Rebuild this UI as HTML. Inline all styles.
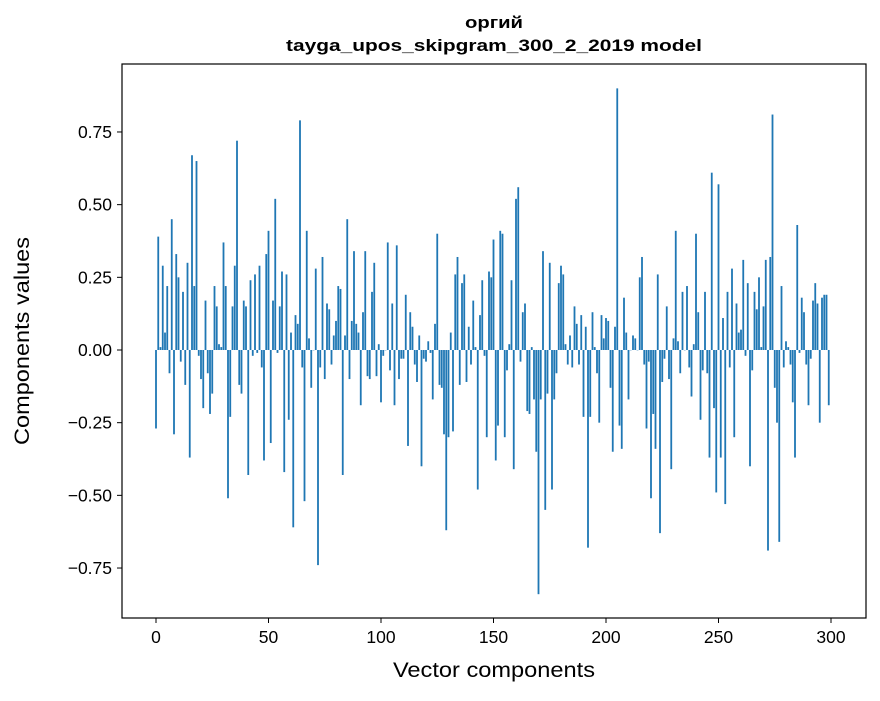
<!DOCTYPE html>
<html><head><meta charset="utf-8"><style>
body{margin:0;background:#fff;}
svg text{font-family:"Liberation Sans","DejaVu Sans",sans-serif;fill:#000;}
</style></head><body>
<svg id="chart" width="880" height="696" viewBox="0 0 880 696" xmlns="http://www.w3.org/2000/svg">
<rect width="880" height="696" fill="#fff"/>
<text x="494" y="28" text-anchor="middle" font-size="17" font-weight="bold" textLength="58" lengthAdjust="spacingAndGlyphs">оргий</text>
<text x="494" y="51" text-anchor="middle" font-size="17" font-weight="bold" textLength="416" lengthAdjust="spacingAndGlyphs">tayga_upos_skipgram_300_2_2019 model</text>
<g id="bars"></g>
<g id="xticks"></g>
<g id="yticks"></g>
<rect x="122" y="64" width="744" height="554" fill="none" stroke="#000" stroke-width="1.2"/>
<text x="494" y="677" text-anchor="middle" font-size="21" textLength="202" lengthAdjust="spacingAndGlyphs">Vector components</text>
<text transform="translate(29,341) rotate(-90)" text-anchor="middle" font-size="21" textLength="208" lengthAdjust="spacingAndGlyphs">Components values</text>
</svg>
<script>
const values = [-0.27,0.39,0.01,0.29,0.06,0.22,-0.08,0.45,-0.29,0.33,0.25,-0.04,0.2,-0.12,0.3,-0.37,0.67,0.22,0.65,-0.02,
-0.1,-0.2,0.17,-0.08,-0.22,-0.15,0.22,0.15,0.02,0.01,0.37,0.22,-0.51,-0.23,0.15,0.29,0.72,-0.12,-0.15,0.17,
0.15,-0.43,0.24,-0.02,0.26,-0.01,0.29,-0.06,-0.38,0.33,0.41,-0.32,0.17,0.52,-0.01,0.15,0.27,-0.42,0.26,-0.24,
0.06,-0.61,0.12,0.09,0.79,-0.06,-0.52,0.41,0.04,-0.13,0.0,0.28,-0.74,-0.06,0.32,-0.1,0.16,0.14,-0.05,0.05,
0.1,0.22,0.21,-0.43,0.05,0.45,-0.1,0.1,0.34,0.09,0.06,-0.19,0.13,0.34,-0.09,-0.1,0.2,0.3,-0.09,0.02,
-0.18,-0.02,0.0,0.37,-0.07,0.16,-0.19,0.36,-0.1,-0.03,-0.03,0.19,-0.33,0.13,0.08,-0.05,-0.11,0.05,-0.4,-0.03,
-0.04,0.03,-0.01,-0.17,0.09,0.4,-0.12,-0.13,-0.29,-0.62,-0.3,0.06,-0.28,0.26,0.32,-0.12,0.23,0.26,-0.11,0.08,
-0.05,0.17,0.01,-0.48,0.12,0.24,-0.02,-0.3,0.27,0.25,0.38,-0.38,-0.26,0.41,0.4,-0.3,-0.07,0.02,0.24,-0.41,
0.52,0.56,-0.04,0.13,0.16,-0.21,-0.22,0.01,-0.17,-0.35,-0.84,-0.17,0.34,-0.55,-0.15,0.3,-0.48,-0.17,-0.08,0.23,
0.29,0.26,0.02,-0.05,0.05,-0.06,0.15,0.09,-0.05,0.12,-0.23,0.08,-0.68,-0.23,0.13,0.01,-0.08,-0.25,0.12,0.04,
0.11,0.1,-0.13,-0.35,0.08,0.9,-0.26,-0.34,0.18,0.06,-0.17,0.0,0.05,0.04,0.0,0.25,0.32,-0.05,-0.27,-0.04,
-0.51,-0.22,-0.34,0.26,-0.63,-0.11,-0.03,0.15,-0.1,-0.41,0.04,0.41,0.03,-0.08,0.2,0.0,0.22,-0.06,-0.16,0.02,
0.4,0.13,-0.24,-0.07,0.2,-0.08,-0.37,0.61,-0.2,-0.49,0.57,-0.37,0.11,-0.53,0.2,-0.06,0.28,-0.3,0.16,0.06,
0.07,0.31,-0.02,0.23,-0.4,-0.07,0.2,0.14,0.25,0.01,0.15,0.31,-0.69,0.32,0.81,-0.13,-0.25,-0.66,0.22,-0.06,
0.03,0.01,-0.05,-0.18,-0.37,0.43,-0.01,0.18,0.13,-0.05,-0.19,-0.03,0.17,0.23,0.16,-0.25,0.18,0.19,0.19,-0.19];
const xTicks = [0,50,100,150,200,250,300];
const yTicks = [-0.75,-0.5,-0.25,0,0.25,0.5,0.75];
const yTickLabels = ["−0.75","−0.50","−0.25","0.00","0.25","0.50","0.75"];

const NS = "http://www.w3.org/2000/svg";
const xs = v => 156 + v * 2.25;
const ys = v => 350 - v * 290.7;
const bars = document.getElementById('bars');
values.forEach((v, i) => {
  const r = document.createElementNS(NS, 'rect');
  const y0 = ys(Math.max(v, 0)), y1 = ys(Math.min(v, 0));
  r.setAttribute('x', xs(i) - 0.9);
  r.setAttribute('y', y0);
  r.setAttribute('width', 1.8);
  r.setAttribute('height', Math.max(y1 - y0, 0.3));
  r.setAttribute('fill', '#1f77b4');
  
  
  bars.appendChild(r);
});
const gx = document.getElementById('xticks');
xTicks.forEach(t => {
  const l = document.createElementNS(NS, 'line');
  l.setAttribute('x1', xs(t)); l.setAttribute('x2', xs(t));
  l.setAttribute('y1', 618); l.setAttribute('y2', 623);
  l.setAttribute('stroke', '#000');
  
  
  gx.appendChild(l);
  const tx = document.createElementNS(NS, 'text');
  tx.setAttribute('x', xs(t)); tx.setAttribute('y', 643);
  tx.setAttribute('text-anchor', 'middle'); tx.setAttribute('font-size', '17.5');
  tx.textContent = t;
  
  
  gx.appendChild(tx);
});
const gy = document.getElementById('yticks');
yTicks.forEach((t, i) => {
  const l = document.createElementNS(NS, 'line');
  l.setAttribute('x1', 117); l.setAttribute('x2', 122);
  l.setAttribute('y1', ys(t)); l.setAttribute('y2', ys(t));
  l.setAttribute('stroke', '#000');
  
  
  gy.appendChild(l);
  const tx = document.createElementNS(NS, 'text');
  tx.setAttribute('x', 112); tx.setAttribute('y', ys(t) + 6);
  tx.setAttribute('text-anchor', 'end'); tx.setAttribute('font-size', '17.5');
  tx.textContent = yTickLabels[i];
  
  
  gy.appendChild(tx);
});
</script>
</body></html>
